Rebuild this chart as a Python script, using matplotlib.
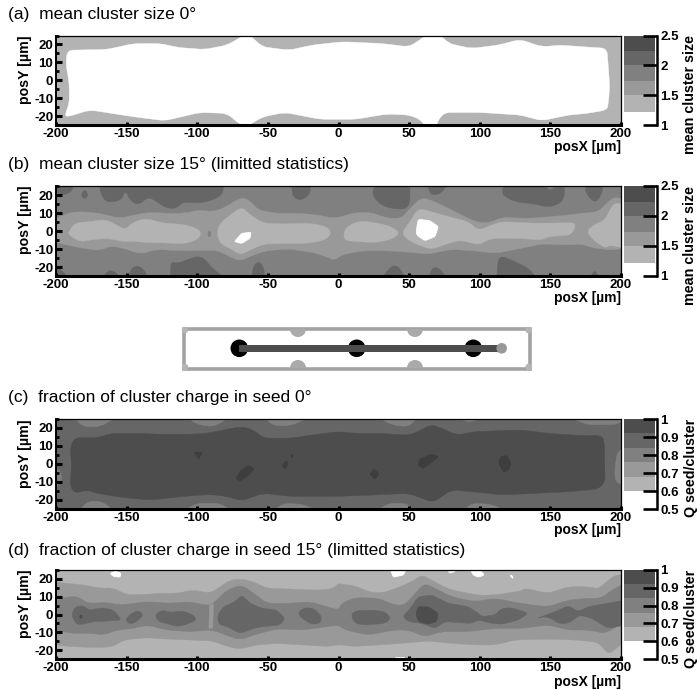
import math
import matplotlib
matplotlib.use("Agg")
import matplotlib.pyplot as plt
from matplotlib.patches import Circle, Rectangle, Wedge, PathPatch
from matplotlib.path import Path

plt.rcParams['font.family'] = ['Liberation Sans', 'DejaVu Sans']
plt.rcParams['axes.unicode_minus'] = False

W, H = 697, 690

# ---- band colours ----
C_WHITE = '#ffffff'
C1 = '#b3b3b3'
C2 = '#999999'
C3 = '#808080'
C4 = '#666666'
C5 = '#4d4d4d'
C6 = '#3e3e3e'

# ---- text ----
TITLES = ['(a)  mean cluster size 0°',
          '(b)  mean cluster size 15° (limitted statistics)',
          '(c)  fraction of cluster charge in seed 0°',
          '(d)  fraction of cluster charge in seed 15° (limitted statistics)']
X_TICKS = [-200, -150, -100, -50, 0, 50, 100, 150, 200]
Y_TICKS = [-20, -10, 0, 10, 20]
Y_MINOR = [-25, -15, -5, 5, 15, 25]
SIZE_TICKS = [1, 1.5, 2, 2.5]
SIZE_TICK_LABELS = ['1', '1.5', '2', '2.5']
SEED_TICKS = [0.5, 0.6, 0.7, 0.8, 0.9, 1.0]
SEED_TICK_LABELS = ['0.5', '0.6', '0.7', '0.8', '0.9', '1']
SIZE_LEVELS = [1.22, 1.5, 1.74, 2.0, 2.24, 2.5]
SEED_LEVELS = [0.6, 0.68, 0.76, 0.84, 0.92, 1.0]
BAND_COLORS = [C1, C2, C3, C4, C5]

# ---- panel (a): contour of the region below the lowest level ----
A_WHITE = [(-192, 16.8), (-164, 17.2), (-145, 20.5), (-126, 20.5), (-113.5, 18.3), (-95, 17.2), (-79, 19.6),
           (-68, 24.6), (-65, 25.5), (-62, 24.6), (-54, 18.7), (-35, 16.8), (-19, 19.6), (3, 21.5), (31, 20.5),
           (50, 18.7), (59, 23.3), (62, 25.5), (72, 25.5), (78, 20.5), (94, 17.8), (113, 19.6), (128.5, 22.8),
           (144, 18.7), (157, 19.6), (190, 17.8), (191, 7.5), (192, -3.6), (191, -13), (190, -16.6), (176, -18.5),
           (163, -19.4), (144, -22.6), (128.5, -19.4), (100, -18), (75, -18), (70, -23), (70, -25.5), (61, -25.5),
           (58, -22), (50, -19.4), (34, -18.9), (12, -21.8), (-13, -21.8), (-38, -18), (-54, -20.5), (-62, -24.5),
           (-66, -25.5), (-70, -24.5), (-79, -18.5), (-98, -18), (-123, -22.6), (-145, -20.4), (-176, -16.6),
           (-192, -20.4), (-193.7, -19.4), (-190.6, -13), (-190.6, -1.8), (-193, 9.4)]

# ---- panel (b): contours ----
B_MID_TOP = [(-203, 6), (-190, 10.4), (-181, 10.7), (-169, 9.8), (-155, 7), (-145, 8.9), (-133, 10.4), (-122, 9.8),
             (-110, 9.8), (-98, 11.7), (-89, 10.7), (-81.5, 12.6), (-74, 16.3), (-68, 18.7), (-62, 16.3), (-57, 11.7),
             (-44, 9.8), (-27, 9.8), (-15, 8.9), (-2.5, 7), (11.7, 10.2), (23.5, 10.2), (35, 7), (44.7, 7), (51.8, 13.5),
             (58.9, 18.7), (68.3, 16.3), (82.5, 10.7), (96.6, 5.2), (106, 4.3), (115.5, 7.6), (134.4, 7), (151, 8),
             (162.7, 8.9), (172, 9.8), (184, 10.7), (191, 16.3), (195.7, 19), (203, 17.2)]
B_MID_BOTTOM = [(-203, -5.9), (-190, -8.1), (-180.6, -9.6), (-168.8, -10.9), (-161.7, -8.3), (-152.3, -9.6),
                (-140.5, -12.8), (-128.7, -10.2), (-114.5, -10.9), (-100.4, -10.9), (-86, -10.6), (-76.7, -14.3),
                (-69.7, -16.7), (-60.2, -13.3), (-50.8, -10.9), (-34.2, -10), (-15.3, -12.4), (-6, -15.2), (-2.5, -16),
                (2.2, -13.3), (16.4, -11), (35.3, -11), (47, -11.6), (63.6, -12.8), (80, -10.2), (96.6, -11),
                (110.8, -12.4), (129.6, -9.6), (143.8, -7.2), (162.7, -7.8), (172, -7.2), (181.6, -9.6), (193.4, -10.6),
                (203, -9.6)]
B_LOW_1 = [(-191, -0.4), (-186.5, 4.6), (-176, 5.2), (-165, 6.5), (-157, 3.3), (-151, 0.6), (-145, 5.2), (-136, 7),
           (-124, 4.3), (-110, 3.7), (-100, 1.5), (-97, -1.3), (-100, -5), (-110, -7.2), (-124, -6.5), (-136, -6.5),
           (-145, -5.6), (-151, -6), (-164, -4), (-176, -5), (-183, -6), (-191, -2.2)]
B_LOW_2 = [(-86, -1.3), (-84, 4.3), (-76.7, 8.9), (-68.5, 13.5), (-62.6, 8.9), (-53, 4.3), (-39, 3.9), (-20, 4.3),
           (-8, 2.4), (-5, -1.3), (-9.4, -5), (-22.4, -6.9), (-39, -6.9), (-53, -7.2), (-62.6, -10.6), (-69.7, -13.3),
           (-76.7, -9.6), (-84, -6.9)]
B_LOW_3 = [(3.4, -1.3), (7, 3.3), (16.4, 5.6), (28.2, 4.3), (37.6, 2.4), (43.5, -1.3), (37.6, -4.6), (25.8, -6.5),
           (14, -5.9), (4.6, -5.4)]
B_LOW_4 = [(44.7, -1.3), (50.6, 5.2), (56.5, 12.6), (66, 10.7), (77.7, 8), (92, 5.2), (99, 0.2), (108.4, 3.3),
           (115.5, 5.2), (139, 4.3), (168.6, 4.6), (165, -2.2), (148.5, -3.1), (143.8, -5), (125, -4), (108.4, -4),
           (99, -7.8), (87, -5), (77.7, -6.9), (66, -10.2), (56.5, -7.8), (49.4, -5)]
B_LOW_5 = [(175.7, -0.4), (180.4, 3.3), (188.7, 6.1), (192, 11.7), (195.7, 15.7), (203, 14.4), (203, -9.6),
           (192, -7.8), (188.7, -9.6), (180.4, -5)]
B_SPECK = [(-92.4, -0.3), (-90.4, -0.3), (-90.4, -3), (-92.4, -3)]
B_WHITE_1 = [(-73.7, -5.9), (-68.5, -1.3), (-62, -0.7), (-62.6, -4), (-68.5, -6.9)]
B_WHITE_2 = [(55.3, 1.5), (56.5, 6.5), (64.8, 5.7), (70.7, 2.4), (68.3, -3.1), (61.2, -5.4), (55.3, -2.2)]
B_HIGH = [
    [(-203, 27), (-187.7, 27), (-187.7, 22.8), (-193.6, 20), (-198.3, 21), (-203, 22.8)],
    [(-181.8, 21), (-179.5, 23.1), (-177, 20), (-179.5, 17.8), (-181.8, 19)],
    [(-168.8, 27), (-81.5, 27), (-81.5, 21), (-88.5, 17.2), (-100, 15.4), (-110, 16.3), (-114.5, 12.6), (-121.6, 12.6),
     (-128.7, 16.3), (-134.6, 19), (-141.7, 14.4), (-147.6, 17.2), (-151, 22.8), (-153.5, 17.2), (-164, 15.7), (-168.8, 21)],
    [(-33, 27), (-20, 27), (-20, 21), (-24, 18), (-28.3, 17.2), (-31.8, 19), (-33, 21.8)],
    [(23.5, 21), (27, 27), (50.6, 27), (50.6, 15.4), (47, 12), (36.4, 12.6), (28.2, 15.4)],
    [(62.4, 27), (77.7, 27), (73, 21), (67.1, 20), (64.8, 21)],
    [(115.5, 21.8), (118, 27), (146, 27), (148.5, 21.8), (159, 27), (160.3, 21), (158, 15.7), (148.5, 13.1), (139, 15),
     (125, 16.3), (118, 19)],
    [(174.5, 22.8), (175.7, 27), (187.5, 27), (186.3, 20), (181.6, 15.7), (177, 19)],
    [(-203, -20), (-196, -21.7), (-190, -27), (-203, -27)],
    [(-167.6, -27), (-163, -21.7), (-158, -22.6), (-153.5, -27)],
    [(-149, -27), (-146.4, -20), (-140.5, -19.4), (-136, -23.5), (-134.6, -27)],
    [(-118.8, -27), (-118.8, -17), (-113.3, -18), (-105, -15.2), (-98, -13.9), (-93.3, -17), (-88.5, -21.3), (-79, -27)],
    [(-61.4, -27), (-60.7, -19.8), (-56.7, -16.7), (-53, -19.8), (-52, -27)],
    [(29.4, -27), (37.6, -19.4), (42.3, -19.4), (48.2, -27)],
    [(63.6, -27), (66, -20.7), (70.7, -20.2), (77.7, -27)],
    [(112, -27), (113, -16), (115.5, -13.9), (125, -17), (134.4, -20.7), (141.5, -27)],
    [(177, -27), (181.6, -21.3), (185, -27)],
]

# ---- panel (c): contours ----
C_LOW = [
    [(-187.7, 26), (-180.6, 20.7), (-168.8, 20.7), (-157, 26)],
    [(-107.4, 26), (-100.3, 22), (-88.5, 20.7), (-76.7, 26)],
    [(-53, 26), (-46, 21.3), (-34, 21.3), (-20, 26)],
    [(28, 26), (37.6, 21.7), (49.4, 20.7), (56.5, 26)],
    [(83.6, 26), (92, 23), (103.7, 26)],
    [(162.7, 26), (177, 21.7), (198, 22), (203, 26)],
    [(-184, -26), (-177, -20.5), (-166.5, -21), (-159.4, -26)],
    [(-109.8, -26), (-100.3, -21.8), (-84, -21.8), (-75.6, -26)],
    [(-46, -26), (-39, -21.8), (-25, -22.4), (-15.3, -26)],
    [(28, -26), (35, -21.8), (48, -21.8), (54, -26)],
    [(88.4, -26), (94.3, -21.8), (108.4, -22.4), (118, -26)],
    [(197.5, 7), (203, 9), (203, -12), (196, -10), (195.5, -3)],
    [(-203, -3), (-196.5, -3), (-196, -11), (-203, -13)],
]
C_MAIN = [(-190, 9.6), (-186.5, 14.6), (-170, 14.6), (-161.7, 17), (-142.9, 17), (-126.3, 16.5), (-105, 16.5), (-93.3, 17),
          (-81.5, 18.9), (-68.5, 20.7), (-60, 18.9), (-53, 14.3), (-34, 14.3), (-15.3, 16.5), (0, 18), (11.7, 17), (28, 17),
          (49.4, 16), (56.5, 18), (64.8, 21.7), (70.7, 20.7), (83.6, 16), (96.6, 18), (129.6, 18.9), (148.5, 17),
          (167.4, 16), (186.3, 15.7), (188.2, 12.4), (188.7, -9.8), (184, -13.9), (162.7, -15.4), (139, -16.3),
          (115.5, -17.2), (99, -15.7), (80, -14.4), (67, -21.3), (49.4, -16.3), (25.8, -17.2), (-2.5, -18), (-34, -18),
          (-53, -16.3), (-60, -18), (-68.5, -20.6), (-79, -18), (-91, -16.9), (-110, -18), (-133, -20), (-152, -18.7),
          (-171, -16.3), (-178, -14.4), (-186.5, -16.3), (-190, -12.6), (-189, -0.6)]
C_SPOTS = [
    [(-102, 6.5), (-96.8, 6.5), (-99, 2.8)],
    [(-72.5, -8), (-69.7, -4.3), (-63.8, -0.9), (-59.7, -2.8), (-63.8, -6.1), (-69.7, -9.4)],
    [(-39.7, -0.6), (-37, 1.7), (-35.7, 0.4), (-37.8, -2.8)],
    [(-33.5, 4.6), (-32, 5.4), (-33, 3.5)],
    [(22.3, -5.7), (25.3, -2.8), (28.7, -5.7), (25.8, -8.3)],
    [(56.5, -0.6), (57.7, 2.6), (66, 5.4), (70.7, 4), (67, 1.7), (60, -2.4)],
    [(113.6, 0.4), (114.8, 4), (119, 4.6), (122, 0.4), (120.2, -3.3), (116.7, -4.3)],
]

# ---- panel (d): contours ----
D_B2_TOP = [(-203, 18.4), (-192.4, 17.5), (-180.6, 16.6), (-168.8, 14.7), (-159.4, 15), (-150, 11), (-135.8, 11.3),
            (-126.3, 11.9), (-114.5, 11.9), (-102.7, 13.8), (-91, 11.9), (-83.8, 15.6), (-76.7, 19.4), (-68.5, 19.9),
            (-60.2, 18.4), (-50.8, 14.7), (-34.2, 14.3), (-20, 13.8), (-10.6, 13.8), (-3.5, 14.7), (0, 17.5), (2.2, 16.9),
            (11.7, 16.2), (21.1, 12.8), (30.5, 11.9), (42.3, 15.1), (51.8, 18.4), (58.9, 22.2), (63.6, 20.3), (77.7, 14.3),
            (91.9, 11.9), (101.3, 10.6), (113.1, 11.3), (129.6, 13.2), (132, 14.7), (148.5, 11.9), (162.7, 15.6),
            (176.9, 15.6), (184, 14.3), (189.8, 18.4), (195.7, 22.2), (203, 22.2)]
D_B2_BOTTOM = [(-203, -16.8), (-190, -18), (-171, -18.6), (-159.4, -18), (-152.3, -14.3), (-135.8, -13), (-121.6, -13.8),
               (-105, -14.3), (-88.5, -14.9), (-79, -18), (-69.7, -19.4), (-58, -17.1), (-43.7, -16.2), (-25, -17.1),
               (-6, -18), (0, -16.8), (9.3, -18), (28.2, -17.1), (44.7, -16.2), (63.6, -14.9), (80, -16.2), (96.6, -17.1),
               (110.8, -17.1), (125, -14.3), (148.5, -13.8), (167.4, -14.3), (184, -15.6), (191, -22.4), (197, -19),
               (203, -14.3)]
D_B3_TOP = [(-203, 6.3), (-192.4, 10), (-184, 10), (-178, 6.3), (-164, 6.8), (-154.7, 5.3), (-135.8, 7.2), (-119, 6.3),
            (-105, 7.2), (-93, 5), (-88.5, 6.3), (-79, 13.8), (-68.5, 16.6), (-60, 11.9), (-50.8, 6.3), (-34, 6.3), (-20, 7.2),
            (-8.3, 4.4), (0, 2.5), (2.2, 6.3), (11.7, 9.5), (28.2, 9.1), (40, 5.3), (47, 5.3), (56.5, 13.8), (61.2, 17.5),
            (70.7, 13.8), (80, 10), (96.6, 7.2), (110.8, 9.1), (122.6, 7.2), (136.7, 5.3), (148.5, 4.4), (162.7, 8.1),
            (176.9, 9.1), (186.3, 9.1), (193.4, 13.8), (203, 17.5)]
D_B3_BOTTOM = [(-203, -7.8), (-190, -10.6), (-173.6, -10.6), (-166.5, -11.5), (-157, -8.7), (-145, -7.8), (-135.8, -5.9),
               (-121.6, -8.7), (-105, -9.6), (-88.5, -8.7), (-79, -11.9), (-69.7, -14.3), (-60, -11.5), (-43.7, -8.1),
               (-25, -8.7), (-8.3, -6.8), (0, -5.9), (4.6, -8.7), (21.1, -11.5), (40, -8.7), (49.4, -8.7), (61.2, -12.5),
               (73, -9.6), (91.9, -9.6), (110.8, -7.8), (129.6, -7.8), (148.5, -5.9), (162.7, -8.7), (176.9, -8.7),
               (188.7, -10.6), (203, -4)]
D_STRIP = [(-91.4, 5.3), (-88.5, 6.3), (-89, -7.8), (-91.8, -7.8)]
D_B4 = [
    [(-189, -0.3), (-186.5, 4.4), (-180.6, 5), (-177, 2.5), (-166.5, 3.8), (-159.4, 2.5), (-153.5, -3.1), (-164, -3.7),
     (-173.6, -4), (-180.6, -5.5), (-185.8, -5.5)],
    [(-151, -3.1), (-147.6, 0.1), (-141.7, 2.5), (-138, -0.3), (-142.9, -4), (-147.6, -5.5)],
    [(-130, -0.3), (-125, 2.5), (-119, 1.2), (-109.8, 2), (-102.7, -0.3), (-100.4, -3.1), (-107.4, -5.5), (-114.5, -6.8),
     (-121.6, -5), (-127.5, -4)],
    [(-85.5, -0.3), (-81.5, 4.4), (-73.2, 7.2), (-68.5, 11), (-62.6, 6.3), (-54.3, 3.5), (-43.7, 2.5), (-37.8, -2.2),
     (-41.3, -5.9), (-53, -6.8), (-60, -7.8), (-69.7, -10.6), (-79, -6.8), (-85, -5.5)],
    [(-28.8, 0.7), (-24.8, 3.8), (-17.7, 3.5), (-11.8, -1.2), (-13, -5), (-18.9, -5.5), (-26, -2.2)],
    [(8.8, -0.3), (11.7, 2), (23.5, 2.5), (32.9, 1.6), (37.1, -2.2), (32.9, -5), (18.7, -5.9), (11.7, -5)],
    [(45.4, -1.2), (51.8, 4.4), (56.5, 10), (65.9, 11), (77.7, 6.3), (91.9, 4.4), (99, 0.7), (101.3, -1.2), (110.8, -0.3),
     (115.5, 3.5), (122.6, 3.8), (134.4, 0.7), (127.3, -3.1), (115.5, -5.5), (108.4, -5), (99, -3.1), (94.3, -5), (75.4, -4),
     (68.3, -7.8), (58.9, -5), (49.4, -4)],
    [(140.3, -2.2), (153.3, 1.6), (162.7, 5), (169.8, 1.6), (176.9, 4.4), (203, 8.1), (203, -5.9), (191, -7.8), (179.2, -2.2),
     (171, -0.3), (162.7, -5), (155.6, -5), (150.9, -2.2), (145, -1.2)],
]
D_B5 = [
    [(54.8, -0.3), (56, 4.4), (63.6, 4.4), (70.7, 0.7), (69.5, -4), (63.6, -5.5), (56.5, -4)],
    [(-183.2, -0.3), (-181.4, -0.3), (-181.4, -2.2), (-183.2, -2.2)],
]
D_WHITE = [
    [(-161.7, 23.1), (-158, 24.4), (-153.9, 23.1), (-154.6, 21), (-159.4, 21.4)],
    [(36.4, 26), (48.2, 26), (45.9, 22.2), (38.8, 21)],
    [(77.3, 24), (83, 24.6), (80, 23.3)],
    [(93, 26), (99, 26), (103.2, 22.2), (99, 21), (95.4, 22.2)],
    [(121.4, 21.8), (122.6, 22.2), (123.8, 20)],
    [(40, -26), (47, -26), (47, -24.2), (40, -24.2)],
]

# ---- sensor sketch ----
SKETCH_DOTS_X = [239.3, 356.7, 473.3]
SKETCH_Y = 348.3
SKETCH_NOTCH_X = [298, 415]
SKETCH_CORNERS = [(185, 330), (528.5, 330), (185, 367), (528.5, 367)]


def axes_px(left, top, right, bottom):
    return fig.add_axes([left / W, 1 - bottom / H, (right - left) / W, (bottom - top) / H])


def contour_path(pts, reach=6.0, sx=1.4125, sy=1.8):
    """Closed contour through the read vertices, with its corners rounded off by at most `reach` pixels."""
    n = len(pts)
    verts, codes = [], []
    for i in range(n):
        p0, p1, p2 = pts[i - 1], pts[i], pts[(i + 1) % n]
        d_in = math.hypot((p1[0] - p0[0]) * sx, (p1[1] - p0[1]) * sy)
        d_out = math.hypot((p2[0] - p1[0]) * sx, (p2[1] - p1[1]) * sy)
        t_in = min(0.45, reach / max(d_in, 1e-6))
        t_out = min(0.45, reach / max(d_out, 1e-6))
        a = (p1[0] + (p0[0] - p1[0]) * t_in, p1[1] + (p0[1] - p1[1]) * t_in)
        b = (p1[0] + (p2[0] - p1[0]) * t_out, p1[1] + (p2[1] - p1[1]) * t_out)
        verts.append(a)
        codes.append(Path.MOVETO if i == 0 else Path.LINETO)
        verts += [p1, b]
        codes += [Path.CURVE3, Path.CURVE3]
    verts.append(verts[0])
    codes.append(Path.CLOSEPOLY)
    return Path(verts, codes)


def fill(ax, pts, color, reach=6.0, edge=0.3):
    ax.add_patch(PathPatch(contour_path(pts, reach), fc=color, ec=color, lw=edge))


fig = plt.figure(figsize=(W / 100, H / 100), dpi=100, facecolor='white')

PANELS = [(35.5, 125), (186, 276), (419, 509), (570, 659)]
TITLE_Y = [15, 165, 397, 550]
XLABEL_Y = [146.5, 298, 530, 682]
TICK_FS = 9.5
axs = []
for i, (top, bottom) in enumerate(PANELS):
    ax = axes_px(56, top, 621, bottom)
    axs.append(ax)
    ax.set_xlim(-200, 200)
    ax.set_ylim(-25, 25)
    ax.set_xticks(X_TICKS)
    ax.set_yticks(Y_TICKS)
    ax.set_yticks(Y_MINOR, minor=True)
    ax.tick_params(axis='x', which='major', direction='in', length=2.5, width=2.2, labelsize=TICK_FS, pad=2.5)
    ax.tick_params(axis='y', which='major', direction='in', length=4, width=2.2, labelsize=TICK_FS, pad=2)
    ax.tick_params(axis='y', which='minor', direction='in', length=2.2, width=2.0)
    for lab in ax.get_xticklabels() + ax.get_yticklabels():
        lab.set_fontweight('bold')
    ax.spines['bottom'].set_linewidth(2.2)
    ax.spines['left'].set_linewidth(1.4)
    ax.spines['top'].set_linewidth(0.9)
    ax.spines['right'].set_linewidth(0.9)
    for s in ax.spines.values():
        s.set_zorder(10)
    fig.text(8 / W, 1 - TITLE_Y[i] / H, TITLES[i], fontsize=12.5, va='center', ha='left')
    fig.text(621 / W, 1 - XLABEL_Y[i] / H, 'posX [µm]', fontsize=10, fontweight='bold', va='center', ha='right')
    fig.text(25 / W, 1 - top / H, 'posY [µm]', fontsize=10.2, fontweight='bold', rotation=90, va='top', ha='center')

# panel a
axs[0].set_facecolor(C1)
fill(axs[0], A_WHITE, C_WHITE)

# panel b
axb = axs[1]
axb.set_facecolor(C3)
for poly in B_HIGH:
    fill(axb, poly, C4)
fill(axb, B_MID_TOP + B_MID_BOTTOM[::-1], C2)
for poly in (B_LOW_1, B_LOW_2, B_LOW_3, B_LOW_4, B_LOW_5):
    fill(axb, poly, C1)
fill(axb, B_SPECK, C3, reach=1.0)
fill(axb, B_WHITE_1, C_WHITE, reach=1.5, edge=0.6)
fill(axb, B_WHITE_2, C_WHITE, reach=2.0, edge=0.6)

# panel c
axc = axs[2]
axc.set_facecolor(C4)
for poly in C_LOW:
    fill(axc, poly, C3)
fill(axc, C_MAIN, C5)
for poly in C_SPOTS:
    fill(axc, poly, C6, reach=1.5, edge=0.8)

# panel d
axd = axs[3]
axd.set_facecolor(C1)
fill(axd, D_B2_TOP + D_B2_BOTTOM[::-1], C2)
fill(axd, D_B3_TOP + D_B3_BOTTOM[::-1], C3)
fill(axd, D_STRIP, C2, reach=1.0)
for poly in D_B4:
    fill(axd, poly, C4, reach=3.5)
for poly in D_B5:
    fill(axd, poly, C5, reach=2.5)
for poly in D_WHITE:
    fill(axd, poly, C_WHITE, reach=1.5, edge=0.6)

# colour scales
SCALES = [(SIZE_LEVELS, SIZE_TICKS, SIZE_TICK_LABELS, 'mean cluster size'),
          (SIZE_LEVELS, SIZE_TICKS, SIZE_TICK_LABELS, 'mean cluster size'),
          (SEED_LEVELS, SEED_TICKS, SEED_TICK_LABELS, 'Q seed/cluster'),
          (SEED_LEVELS, SEED_TICKS, SEED_TICK_LABELS, 'Q seed/cluster')]
for (top, bottom), (levels, ticks, labels, name) in zip(PANELS, SCALES):
    cax = axes_px(624, top, 657, bottom)
    cax.set_xlim(0, 33)
    cax.set_ylim(ticks[0], ticks[-1])
    for k, col in enumerate(BAND_COLORS):
        cax.fill_between([0, 30.5], levels[k], levels[k + 1], color=col, lw=0)
    for side in ('top', 'bottom', 'left'):
        cax.spines[side].set_visible(False)
    cax.spines['right'].set_linewidth(1.8)
    cax.set_xticks([])
    cax.yaxis.tick_right()
    cax.set_yticks(ticks)
    cax.set_yticklabels(labels, fontweight='bold', fontsize=TICK_FS)
    cax.tick_params(axis='y', direction='in', length=10, width=1.9, pad=2.5)
    for t in cax.yaxis.get_major_ticks():
        t.tick2line.set_clip_on(False)
    fig.text(690.5 / W, 1 - top / H, name, fontsize=10.3, fontweight='bold', rotation=90, va='top', ha='center')

# sensor sketch, in figure pixels
sk = fig.add_axes([0, 0, 1, 1], facecolor='none')
sk.set_xlim(0, W)
sk.set_ylim(H, 0)
sk.axis('off')
sk.set_zorder(-1)
sk.add_patch(Rectangle((183.5, 328.5), 346.5, 40, fc='white', ec='#a3a3a3', lw=2.6))
for nx in SKETCH_NOTCH_X:
    sk.add_patch(Wedge((nx, 329), 8, 0, 180, fc='#aaaaaa', lw=0))
    sk.add_patch(Wedge((nx, 368), 8, 180, 360, fc='#aaaaaa', lw=0))
for cx, cy in SKETCH_CORNERS:
    sk.add_patch(Circle((cx, cy), 3.2, fc='#b5b5b5', lw=0))
for nx in SKETCH_DOTS_X:
    sk.add_patch(Circle((nx, SKETCH_Y), 8.8, fc='black', lw=0))
sk.add_patch(Rectangle((239.3, 345), 261, 7, fc='#4d4d4d', lw=0))
sk.add_patch(Circle((501.7, SKETCH_Y), 5.3, fc='#999999', lw=0))

fig.savefig('out.png', dpi=100, facecolor='white')
